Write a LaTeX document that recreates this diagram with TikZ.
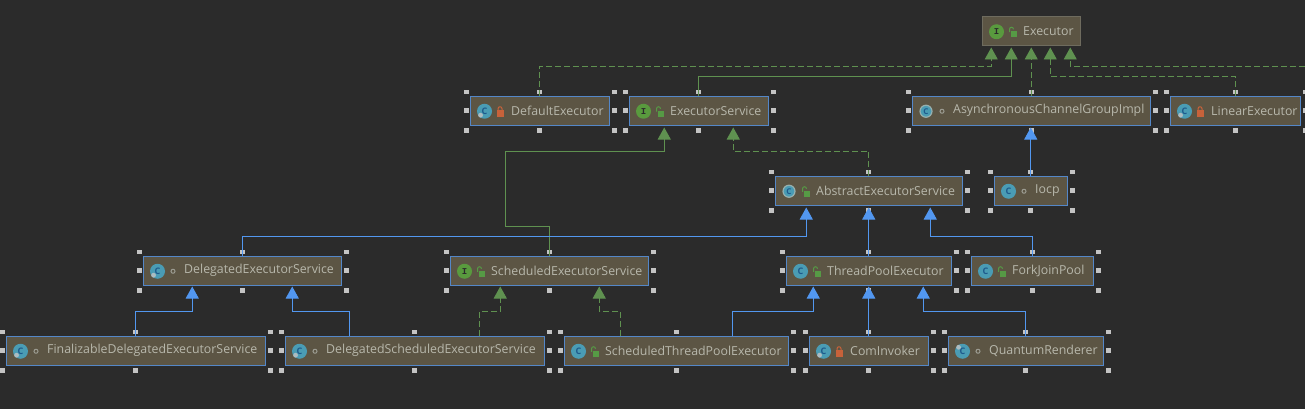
\documentclass[tikz,border=0pt]{standalone}
\usepackage{fontspec}
\setmainfont{Open Sans}
\newfontfamily\monoicon{Liberation Mono}
\usetikzlibrary{arrows.meta,calc}
\definecolor{bgc}{HTML}{2B2B2B}
\definecolor{boxfill}{HTML}{5C5544}
\definecolor{boxedge}{HTML}{5487C8}
\definecolor{plainedge}{HTML}{6E6B5E}
\definecolor{txt}{HTML}{B8B8AC}
\definecolor{greenl}{HTML}{5F9150}
\definecolor{bluel}{HTML}{5297F0}
\definecolor{hand}{HTML}{C4C4C4}
\definecolor{tealc}{HTML}{4A9CB4}
\definecolor{inkc}{HTML}{1E5A8C}
\definecolor{greeni}{HTML}{599A3E}
\definecolor{lockred}{HTML}{C8623A}
\definecolor{lockgreen}{HTML}{569A45}
\tikzset{
  x=1pt,y=-1pt,
  sel/.style={draw=boxedge,fill=boxfill,line width=1pt,inner sep=0pt},
  unsel/.style={draw=plainedge,fill=boxfill,line width=1pt,inner sep=0pt},
  lab/.style={anchor=west,inner sep=0pt,text=txt,font=\fontsize{12.35}{14}\selectfont},
  hnd/.style={fill=hand,draw=none,minimum size=4.8pt,inner sep=0pt},
  impl/.style={draw=greenl,line width=.9pt,dash pattern=on 6pt off 3pt,-{Triangle[length=12pt,width=13pt,fill=greenl]}},
  ext/.style={draw=greenl,line width=.9pt,-{Triangle[length=12pt,width=13pt,fill=greenl]}},
  inh/.style={draw=bluel,line width=.9pt,-{Triangle[length=12pt,width=13pt,fill=bluel]}},
  iconc/.style={circle,fill=tealc,minimum size=15pt,inner sep=0pt,text=inkc,font=\fontsize{9}{9}\bfseries\selectfont},
  iconi/.style={circle,fill=greeni,minimum size=15pt,inner sep=0pt,text=bgc,font=\fontsize{9}{9}\monoicon\bfseries},
}
% #1 style #2 name #3 x0 #4 y0 #5 x1 #6 y1 #7 text
\newcommand{\cbox}[7]{%
  \node[#1,minimum width=#5pt-#3pt,minimum height=#6pt-#4pt] (#2) at ({(#3+#5)/2},{(#4+#6)/2}) {};
  \node[lab] (#2t) at ($(#2.west)+(41,0)$) {#7};
}
\newcommand{\handles}[1]{%
  \foreach \ax/\dx in {west/-3.5,center/0,east/5}{
    \foreach \ay/\dy in {north/-4,south/5}{
      \node[hnd] at ($(#1.\ax|-#1.\ay)+(\dx,\dy)$) {};
    }
  }
  \node[hnd] at ($(#1.west)+(-3.5,0)$) {};
  \node[hnd] at ($(#1.east)+(5,0)$) {};
}
% icons
\newcommand{\iconC}[1]{\node[iconc] (#1c) at ($(#1.west)+(14.5,0.5)$) {C};}
\newcommand{\iconI}[1]{\node[iconi] (#1c) at ($(#1.west)+(14.5,0.5)$) {I};}
\newcommand{\iconA}[1]{\node[circle,fill=tealc,draw=txt!70!tealc,line width=1.2pt,minimum size=12pt,inner sep=0pt,text=inkc,font=\fontsize{8}{8}\bfseries\selectfont] (#1c) at ($(#1.west)+(14,0.5)$) {C};}
\newcommand{\gear}[1]{\fill[hand!80!tealc] ($(#1c.south west)+(1.5,-1.5)$) circle (2.4pt);}
\newcommand{\gearT}[1]{\fill[hand!80!tealc] ($(#1c.north west)+(1.5,1.5)$) circle (2.4pt);}
\newcommand{\lockg}[1]{%
  \coordinate (#1m) at ($(#1.west)+(30,1)$);
  \fill[lockgreen] ($(#1m)+(-1.5,-1)$) rectangle ($(#1m)+(5,5)$);
  \draw[lockgreen,line width=1pt] ($(#1m)+(-2.5,0)$) -- ++(0,-3) arc[start angle=180,end angle=0,x radius=2,y radius=-2];}
\newcommand{\lockr}[1]{%
  \coordinate (#1m) at ($(#1.west)+(30,1)$);
  \fill[lockred] ($(#1m)+(-3.5,-1.5)$) rectangle ($(#1m)+(3.5,5)$);
  \draw[lockred,line width=1pt] ($(#1m)+(-2,-1)$) -- ++(0,-2) arc[start angle=180,end angle=0,x radius=2,y radius=-2] -- ++(0,2);}
\newcommand{\pkg}[1]{\draw[txt!80!bgc,line width=1pt] ($(#1.west)+(30,0.5)$) circle (2pt);}
\begin{document}
\begin{tikzpicture}
\fill[bgc] (0,0) rectangle (1305,409);
\useasboundingbox (0,0) rectangle (1305,409);

\cbox{unsel}{ex}{982.5}{16.5}{1080}{46}{Executor}
\cbox{sel}{de}{470.5}{96.5}{609}{125}{DefaultExecutor}
\cbox{sel}{es}{629.5}{96.5}{768}{125}{ExecutorService}
\cbox{sel}{ac}{912.5}{96.5}{1150}{125}{AsynchronousChannelGroupImpl}
\cbox{sel}{le}{1170.5}{96.5}{1300}{125}{LinearExecutor}
\cbox{sel}{ab}{775.5}{176.5}{962}{205}{AbstractExecutorService}
\cbox{sel}{io}{994.5}{176.5}{1067}{205}{Iocp}
\cbox{sel}{dl}{143.5}{256.5}{341}{285}{DelegatedExecutorService}
\cbox{sel}{se}{450.5}{256.5}{648}{285}{ScheduledExecutorService}
\cbox{sel}{tp}{786.5}{256.5}{951}{285}{ThreadPoolExecutor}
\cbox{sel}{fj}{971.5}{256.5}{1093}{285}{ForkJoinPool}
\cbox{sel}{fd}{6.5}{336.5}{265}{365}{FinalizableDelegatedExecutorService}
\cbox{sel}{ds}{285.5}{336.5}{544}{365}{DelegatedScheduledExecutorService}
\cbox{sel}{st}{564.5}{336.5}{788}{365}{ScheduledThreadPoolExecutor}
\cbox{sel}{ci}{809.5}{336.5}{928}{365}{ComInvoker}
\cbox{sel}{qr}{948.5}{336.5}{1103}{365}{QuantumRenderer}

\foreach \nm in {de,es,ac,le,ab,io,dl,se,tp,fj,fd,ds,st,ci,qr}{\handles{\nm}}

\iconI{ex}\lockg{ex}
\iconC{de}\gear{de}\lockr{de}
\iconI{es}\lockg{es}
\iconA{ac}\pkg{ac}
\iconC{le}\gear{le}\lockr{le}
\iconA{ab}\lockg{ab}
\iconC{io}\pkg{io}
\iconC{dl}\gear{dl}\pkg{dl}
\iconI{se}\lockg{se}
\iconC{tp}\lockg{tp}
\iconC{fj}\lockg{fj}
\iconC{fd}\gear{fd}\pkg{fd}
\iconC{ds}\gear{ds}\pkg{ds}
\iconC{st}\lockg{st}
\iconC{ci}\gear{ci}\lockr{ci}
\iconC{qr}\gearT{qr}\pkg{qr}

% arrow targets
\coordinate (ex1) at ($(ex.south)+(-40,1)$);
\coordinate (ex2) at ($(ex.south)+(-20,1)$);
\coordinate (ex3) at ($(ex.south)+(0,1)$);
\coordinate (ex4) at ($(ex.south)+(19,1)$);
\coordinate (ex5) at ($(ex.south)+(39,1)$);
\coordinate (es1) at ($(es.south)+(-34.5,2)$);
\coordinate (es2) at ($(es.south)+(34.5,2)$);
\coordinate (ab1) at ($(ab.south)+(-62.5,2)$);
\coordinate (ab2) at ($(ab.south)+(0,2)$);
\coordinate (ab3) at ($(ab.south)+(61.5,2)$);
\coordinate (dl1) at ($(dl.south)+(-50,1)$);
\coordinate (dl2) at ($(dl.south)+(50,1)$);
\coordinate (se1) at ($(se.south)+(-49,1)$);
\coordinate (se2) at ($(se.south)+(50,1)$);
\coordinate (tp1) at ($(tp.south)+(-55.5,1)$);
\coordinate (tp2) at ($(tp.south)+(0,1)$);
\coordinate (tp3) at ($(tp.south)+(54.5,1)$);
\coordinate (off) at (1305,66.5);
\coordinate (ds1) at ($(ds.north)+(-65,0)$);
\coordinate (ds2) at ($(ds.north)+(65,0)$);
\coordinate (st1) at ($(st.north)+(-56,0)$);
\coordinate (st2) at ($(st.north)+(56,0)$);

\draw[impl] (de.north) |- (ex1|-off) -- (ex1);
\draw[ext]  (es.north) -- ++(0,-20) -| (ex2);
\draw[impl] (ac.north) -- (ex3);
\draw[impl] (le.north) -- ++(0,-20) -| (ex4);
\draw[impl] (off) -| (ex5);
\draw[ext]  (se.north) -- ++(0,-29.5) -- ++(-43.5,0) |- ($(es1|-ab.north)+(0,-25)$) -- (es1);
\draw[impl] (ab.north) -- ++(0,-25) -| (es2);
\draw[inh]  (io.north) -- ($(io.north|-ac.south)+(0,2)$);
\draw[inh]  (dl.north) -- ++(0,-19.5) -| (ab1);
\draw[inh]  (tp.north) -- (ab2);
\draw[inh]  (fj.north) -- ++(0,-19.5) -| (ab3);
\draw[inh]  (fd.north) -- ++(0,-25) -| (dl1);
\draw[inh]  (ds1) -- ++(0,-25) -| (dl2);
\draw[impl] (ds2) -- ++(0,-25) -| (se1);
\draw[impl] (st1) -- ++(0,-25) -| (se2);
\draw[inh]  (st2) -- ++(0,-25) -| (tp1);
\draw[inh]  (ci.north) -- (tp2);
\draw[inh]  (qr.north) -- ++(0,-25) -| (tp3);
\end{tikzpicture}
\end{document}
